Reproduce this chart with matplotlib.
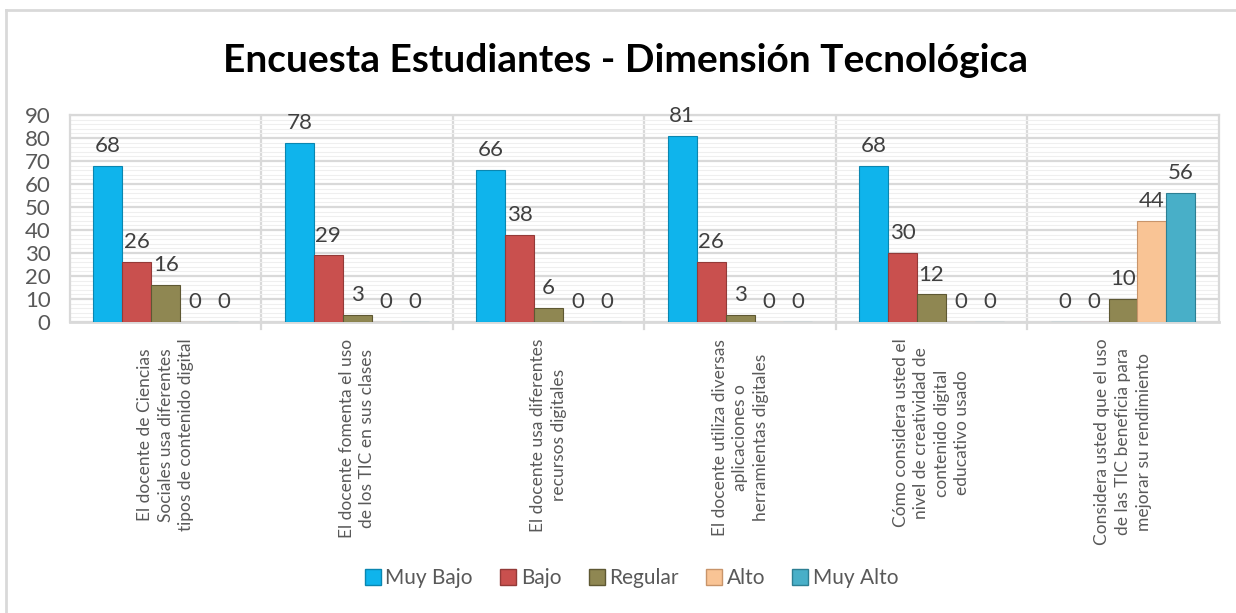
import matplotlib
matplotlib.use("Agg")
import matplotlib.pyplot as plt
import numpy as np
from matplotlib.lines import Line2D
from matplotlib.ticker import MultipleLocator

plt.rcParams['font.family'] = ['Lato', 'DejaVu Sans']

# Data
categories = [
    "El docente de Ciencias\nSociales usa diferentes\ntipos de contenido digital",
    "El docente fomenta el uso\nde los TIC en sus clases",
    "El docente usa diferentes\nrecursos digitales",
    "El docente utiliza diversas\naplicaciones o\nherramientas digitales",
    "Cómo considera usted el\nnivel de creatividad de\ncontenido digital\neducativo usado",
    "Considera usted que el uso\nde las TIC beneficia para\nmejorar su rendimiento",
]
series_names = ["Muy Bajo", "Bajo", "Regular", "Alto", "Muy Alto"]
muy_bajo = [68, 78, 66, 81, 68, 0]
bajo = [26, 29, 38, 26, 30, 0]
regular = [16, 3, 6, 3, 12, 10]
alto = [0, 0, 0, 0, 0, 44]
muy_alto = [0, 0, 0, 0, 0, 56]
series_values = [muy_bajo, bajo, regular, alto, muy_alto]
colors = ["#0FB4EC", "#C9504E", "#8F8752", "#F9C495", "#48AFC8"]
edge_colors = ["#0A86B0", "#933A38", "#5E5833", "#C8946A", "#2D7F93"]

fig = plt.figure(figsize=(12.36, 6.13), dpi=100)
ax = fig.add_axes([0.0566, 0.4747, 0.9294, 0.3377])

x = np.arange(len(categories))
w = 0.151
for i, (name, vals) in enumerate(zip(series_names, series_values)):
    pos = x - 2 * w + i * w
    bars = ax.bar(pos, vals, width=w, color=colors[i], edgecolor=edge_colors[i],
                  linewidth=0.8, label=name, zorder=3)
    for b, v in zip(bars, vals):
        ax.annotate(f"{v}", (b.get_x() + b.get_width() / 2, v),
                    xytext=(0, 7), textcoords="offset points",
                    ha="center", va="bottom", fontsize=16, color="#404040", zorder=4)

ax.set_xlim(-0.5, len(categories) - 0.5)
ax.set_ylim(0, 90)
ax.yaxis.set_major_locator(MultipleLocator(10))
ax.yaxis.set_minor_locator(MultipleLocator(2))
ax.grid(axis="y", which="major", color="#D9D9D9", linewidth=1.6, zorder=0)
ax.grid(axis="y", which="minor", color="#EFEFEF", linewidth=0.8, zorder=0)
for sep in x[:-1] + 0.5:
    ax.axvline(sep, color="#D9D9D9", linewidth=1.6, zorder=1)
    ax.plot([sep, sep], [0, -3], color="#D9D9D9", linewidth=1.6, clip_on=False)

for s in ["top", "right", "left"]:
    ax.spines[s].set_color("#D9D9D9")
    ax.spines[s].set_linewidth(1.6)
ax.spines["bottom"].set_color("#D9D9D9")
ax.spines["bottom"].set_linewidth(2)

ax.tick_params(axis="y", which="both", length=0, labelsize=16, labelcolor="#595959", pad=14)
ax.tick_params(axis="x", length=0, pad=12)
ax.set_xticks(x)
ax.set_xticklabels(categories, rotation=90, fontsize=12.5, color="#595959",
                   ha="center", va="top", multialignment="center")
for lbl in ax.get_xticklabels():
    lbl.set_linespacing(1.35)

fig.text(0.506, 0.902, "Encuesta Estudiantes - Dimensión Tecnológica",
         ha="center", va="center", fontsize=28, fontweight="bold", color="#000000")

handles = [Line2D([0], [0], marker="s", linestyle="none", markersize=12,
                  markerfacecolor=colors[i], markeredgecolor=edge_colors[i])
           for i in range(len(series_names))]
fig.legend(handles, series_names, loc="center", bbox_to_anchor=(0.51, 0.057),
           ncol=5, frameon=False, fontsize=15, labelcolor="#595959",
           handletextpad=0.1, columnspacing=1.2, handlelength=1.0)

# chart border (top and left visible)
fig.add_artist(Line2D([0.005, 1.0], [0.983, 0.983], color="#D9D9D9", linewidth=2,
                      transform=fig.transFigure))
fig.add_artist(Line2D([0.005, 0.005], [0.0, 0.983], color="#D9D9D9", linewidth=2,
                      transform=fig.transFigure))

fig.savefig("out.png", dpi=100)
